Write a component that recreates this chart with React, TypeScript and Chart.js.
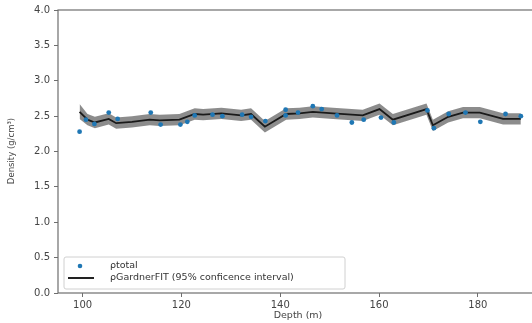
import React, { useEffect, useRef } from "react";
import { Chart, registerables } from "chart.js";

Chart.register(...registerables);

const pointDepths = [99.4, 100.7, 102.4, 105.3, 107.1, 113.8, 115.8, 119.8, 121.2, 122.7, 126.3, 128.3, 132.3, 134.1, 137.0, 141.1, 141.1, 143.6, 146.6, 148.4, 151.5, 154.5, 156.9, 160.4, 163.0, 169.8, 171.1, 174.1, 177.5, 180.5, 185.6, 188.7];
const pointValues = [2.28, 2.45, 2.39, 2.55, 2.46, 2.55, 2.38, 2.38, 2.42, 2.51, 2.52, 2.50, 2.52, 2.49, 2.43, 2.59, 2.51, 2.55, 2.64, 2.60, 2.51, 2.41, 2.45, 2.48, 2.41, 2.58, 2.33, 2.53, 2.55, 2.42, 2.53, 2.50];

const fitDepths = [99.4, 101.0, 102.5, 105.3, 106.8, 110.0, 113.6, 115.6, 119.6, 122.7, 124.4, 128.1, 132.1, 134.1, 136.9, 141.2, 143.9, 146.6, 150.7, 156.7, 160.1, 162.8, 169.6, 170.9, 174.0, 177.0, 180.4, 185.1, 188.7];
const fitValues = [2.56, 2.45, 2.41, 2.46, 2.40, 2.42, 2.45, 2.44, 2.45, 2.53, 2.52, 2.54, 2.51, 2.53, 2.35, 2.53, 2.54, 2.56, 2.54, 2.51, 2.60, 2.45, 2.60, 2.37, 2.49, 2.55, 2.55, 2.46, 2.46];
const fitUpper = [2.67, 2.53, 2.49, 2.54, 2.48, 2.50, 2.53, 2.52, 2.53, 2.61, 2.60, 2.62, 2.59, 2.61, 2.43, 2.61, 2.62, 2.64, 2.62, 2.59, 2.68, 2.53, 2.68, 2.45, 2.57, 2.63, 2.63, 2.54, 2.54];
const fitLower = [2.46, 2.37, 2.33, 2.38, 2.32, 2.34, 2.37, 2.36, 2.37, 2.45, 2.44, 2.46, 2.43, 2.45, 2.27, 2.45, 2.46, 2.48, 2.46, 2.43, 2.52, 2.37, 2.52, 2.29, 2.41, 2.47, 2.47, 2.38, 2.38];

const xTicks = [100, 120, 140, 160, 180];
const legendLabels = ["\u03c1total", "\u03c1GardnerFIT (95% conficence interval)"];
const xTitle = "Depth (m)";
const yTitle = "Density (g/cm\u00b3)";

const FONT = "'DejaVu Sans', sans-serif";

const framePlugin = {
  id: "frameAndLegend",
  afterDraw(chart: any) {
    const { ctx, chartArea } = chart;
    ctx.save();
    ctx.strokeStyle = "#6e6e6e";
    ctx.lineWidth = 1.2;
    ctx.strokeRect(chartArea.left, chartArea.top, chartArea.right - chartArea.left, chartArea.bottom - chartArea.top);

    // axis titles
    ctx.fillStyle = "#444";
    ctx.textAlign = "center";
    ctx.textBaseline = "middle";
    ctx.font = `9.5px ${FONT}`;
    ctx.fillText(xTitle, 298, 316);
    ctx.save();
    ctx.translate(12, 151);
    ctx.rotate(-Math.PI / 2);
    ctx.font = `8.5px ${FONT}`;
    ctx.fillText(yTitle, 0, 0);
    ctx.restore();

    // legend
    const lx = chartArea.left + 6;
    const ly = chartArea.bottom - 36;
    const lw = 281;
    const lh = 32;
    ctx.fillStyle = "rgba(255,255,255,0.85)";
    ctx.strokeStyle = "#d0d0d0";
    ctx.lineWidth = 1;
    ctx.beginPath();
    ctx.roundRect(lx, ly, lw, lh, 2);
    ctx.fill();
    ctx.stroke();

    ctx.fillStyle = "#1f77b4";
    ctx.beginPath();
    ctx.arc(lx + 16, ly + 9, 2.3, 0, Math.PI * 2);
    ctx.fill();

    ctx.strokeStyle = "#222";
    ctx.lineWidth = 2;
    ctx.beginPath();
    ctx.moveTo(lx + 4, ly + 21);
    ctx.lineTo(lx + 30, ly + 21);
    ctx.stroke();

    ctx.fillStyle = "#333";
    ctx.font = `9.5px ${FONT}`;
    ctx.textBaseline = "middle";
    ctx.textAlign = "left";
    ctx.fillText(legendLabels[0], lx + 46, ly + 9);
    ctx.fillText(legendLabels[1], lx + 46, ly + 21);
    ctx.restore();
  },
};

export default function App() {
  const ref = useRef<HTMLCanvasElement | null>(null);

  useEffect(() => {
    if (!ref.current) return;
    const chart = new Chart(ref.current, {
      type: "line",
      data: {
        datasets: [
          {
            label: legendLabels[0],
            data: pointDepths.map((d, i) => ({ x: d, y: pointValues[i] })),
            showLine: false,
            pointRadius: 2.4,
            pointBackgroundColor: "#1f77b4",
            pointBorderWidth: 0,
            borderColor: "#1f77b4",
          },
          {
            label: legendLabels[1],
            data: fitDepths.map((d, i) => ({ x: d, y: fitValues[i] })),
            borderColor: "#1a1a1a",
            borderWidth: 1.8,
            pointRadius: 0,
            tension: 0,
            fill: false,
          },
          {
            label: "upper",
            data: fitDepths.map((d, i) => ({ x: d, y: fitUpper[i] })),
            borderWidth: 0,
            borderColor: "rgba(0,0,0,0)",
            pointRadius: 0,
            fill: false,
          },
          {
            label: "lower",
            data: fitDepths.map((d, i) => ({ x: d, y: fitLower[i] })),
            borderWidth: 0,
            borderColor: "rgba(0,0,0,0)",
            pointRadius: 0,
            fill: "-1",
            backgroundColor: "rgba(120,120,120,0.85)",
          },
        ],
      },
      options: {
        responsive: false,
        animation: false,
        layout: { padding: { top: 7.8, right: 0, left: 0, bottom: 0 } },
        plugins: { legend: { display: false }, tooltip: { enabled: false } },
        scales: {
          x: {
            type: "linear",
            min: 95.03,
            max: 192.78,
            afterBuildTicks: (scale: any) => {
              scale.ticks = xTicks.map((v) => ({ value: v }));
            },
            afterFit: (scale: any) => {
              scale.height = 30;
            },
            grid: { drawOnChartArea: false, drawTicks: true, tickLength: 4, color: "#6e6e6e" },
            border: { display: false },
            ticks: { color: "#444", font: { family: FONT, size: 10 }, padding: 2, maxRotation: 0 },
          },
          y: {
            type: "linear",
            min: 0,
            max: 4,
            afterFit: (scale: any) => {
              scale.width = 58;
            },
            grid: { drawOnChartArea: false, drawTicks: true, tickLength: 4, color: "#6e6e6e" },
            border: { display: false },
            ticks: {
              stepSize: 0.5,
              color: "#444",
              font: { family: FONT, size: 10 },
              padding: 4,
              callback: (v: any) => Number(v).toFixed(1),
            },
          },
        },
      },
      plugins: [framePlugin],
    } as any);
    return () => chart.destroy();
  }, []);

  return (
    <div style={{ position: "fixed", left: 0, top: 0, width: 532, height: 323, overflow: "hidden", background: "#fff" }}>
      <canvas ref={ref} width={545} height={323} style={{ display: "block" }} />
    </div>
  );
}
